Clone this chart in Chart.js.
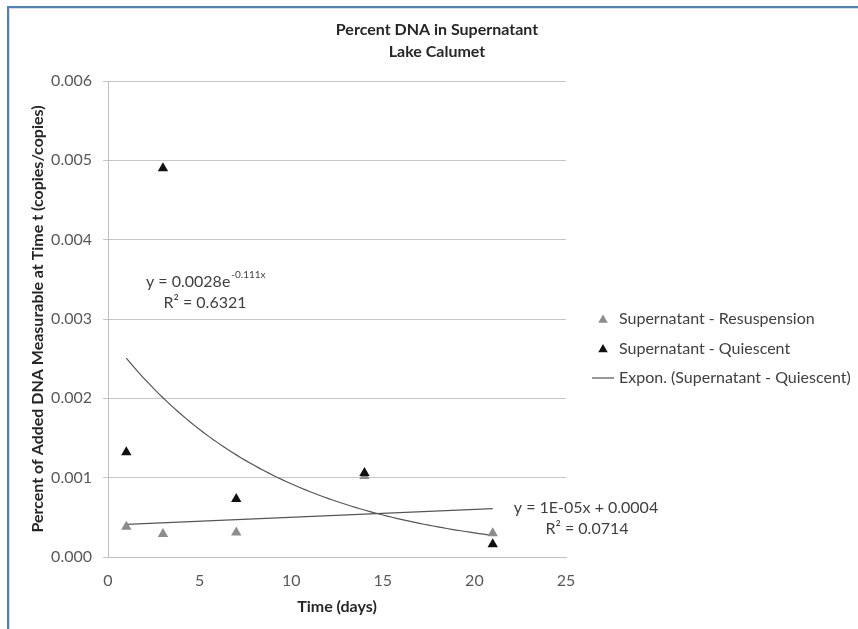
<!DOCTYPE html>
<html>
<head>
<meta charset="utf-8">
<title>Percent DNA in Supernatant</title>
<script src="https://cdn.jsdelivr.net/npm/chart.js@4.4.1/dist/chart.umd.min.js"></script>
<style>
  html, body { margin: 0; padding: 0; background: #fff; }
  #wrap { width: 858px; height: 629px; }
</style>
</head>
<body>
<div id="wrap"><canvas id="dnaChart" width="858" height="629"></canvas></div>
<script>
// sampling days and measured fractions
const days = [1, 3, 7, 14, 21];
const resuspension = [0.00038, 0.00029, 0.00031, 0.00102, 0.00030];
const quiescent = [0.00132, 0.0049, 0.00073, 0.00106, 0.00016];

// axis ticks
const xTicks = [0, 5, 10, 15, 20, 25];
const yTicks = [0, 0.001, 0.002, 0.003, 0.004, 0.005, 0.006];

// fitted trendlines, coefficients as printed on the chart
const expFit = [0.0028, -0.111];   // y = a * e^(b x)
const linFit = [0.00001, 0.0004];  // y = m x + c
const fitRange = [1, 21];

const expLabel = ['y = 0.0028e', '-0.111x', 'R² = 0.6321'];
const linLabel = ['y = 1E-05x + 0.0004', 'R² = 0.0714'];

const FONT = 'Lato, "Open Sans", sans-serif';

function expPoints() {
  const pts = [];
  for (let x = fitRange[0]; x <= fitRange[1] + 1e-9; x += 0.25) {
    pts.push({ x: x, y: expFit[0] * Math.exp(expFit[1] * x) });
  }
  return pts;
}

function linPoints() {
  return fitRange.map(x => ({ x: x, y: linFit[0] * x + linFit[1] }));
}

function toXY(xs, ys) {
  return xs.map((x, i) => ({ x: x, y: ys[i] }));
}

function triangle(ctx, x, y, r, color) {
  ctx.beginPath();
  ctx.moveTo(x, y - r);
  ctx.lineTo(x + r * 0.866, y + r * 0.5);
  ctx.lineTo(x - r * 0.866, y + r * 0.5);
  ctx.closePath();
  ctx.fillStyle = color;
  ctx.fill();
}

const decorations = {
  id: 'decorations',
  beforeDraw(chart) {
    const ctx = chart.ctx;
    ctx.save();
    ctx.fillStyle = '#fff';
    ctx.fillRect(0, 0, chart.width, chart.height);
    // blue frame along top and left
    ctx.fillStyle = '#4f81bd';
    ctx.fillRect(7, 6, chart.width - 7, 2);
    ctx.fillRect(7, 6, 2, chart.height - 6);
    ctx.fillStyle = '#dcdcdc';
    ctx.fillRect(9, 8, chart.width - 9, 1);
    ctx.fillRect(9, 8, 1, chart.height - 8);
    ctx.restore();
  },
  afterDraw(chart) {
    const ctx = chart.ctx;
    ctx.save();

    // title
    ctx.fillStyle = '#262626';
    ctx.textAlign = 'center';
    ctx.textBaseline = 'middle';
    ctx.font = 'bold 16px ' + FONT;
    ctx.fillText('Percent DNA in Supernatant', 437, 30);
    ctx.fillText('Lake Calumet', 437, 52);

    // trendline equations
    ctx.fillStyle = '#404040';
    ctx.textAlign = 'left';
    ctx.font = '16px ' + FONT;
    ctx.fillText(expLabel[0], 146, 282);
    const w = ctx.measureText(expLabel[0]).width;
    ctx.font = '10px ' + FONT;
    ctx.fillText(expLabel[1], 146 + w + 1, 275);
    ctx.font = '16px ' + FONT;
    ctx.textAlign = 'center';
    ctx.fillText(expLabel[2], 205, 303);
    ctx.fillText(linLabel[0], 586, 508);
    ctx.fillText(linLabel[1], 587, 529);

    // legend
    ctx.textAlign = 'left';
    const ds = chart.data.datasets;
    [0, 1, 2].forEach((idx, i) => {
      const d = ds[idx];
      const y = 319 + i * 29.5;
      if (d.showLine) {
        ctx.strokeStyle = d.borderColor;
        ctx.lineWidth = 1.2;
        ctx.beginPath();
        ctx.moveTo(592, y);
        ctx.lineTo(614, y);
        ctx.stroke();
      } else {
        triangle(ctx, 603, y + 1, 5.5, d.backgroundColor);
      }
      ctx.fillStyle = '#404040';
      ctx.fillText(d.label, 619, y);
    });
    ctx.restore();
  }
};

const chart = new Chart(document.getElementById('dnaChart'), {
  type: 'scatter',
  data: {
    datasets: [
      {
        label: 'Supernatant - Resuspension',
        data: toXY(days, resuspension),
        pointStyle: 'triangle',
        pointRadius: 6,
        backgroundColor: '#8c8c8c',
        borderColor: '#8c8c8c',
        borderWidth: 0,
        order: 1
      },
      {
        label: 'Supernatant - Quiescent',
        data: toXY(days, quiescent),
        pointStyle: 'triangle',
        pointRadius: 6,
        backgroundColor: '#111111',
        borderColor: '#111111',
        borderWidth: 0,
        order: 0
      },
      {
        label: 'Expon. (Supernatant - Quiescent)',
        data: expPoints(),
        showLine: true,
        pointRadius: 0,
        borderColor: '#555555',
        borderWidth: 1.2,
        order: 2
      },
      {
        label: 'Linear (Supernatant - Resuspension)',
        data: linPoints(),
        showLine: true,
        pointRadius: 0,
        borderColor: '#555555',
        borderWidth: 1.2,
        order: 2
      }
    ]
  },
  options: {
    responsive: false,
    animation: false,
    layout: { padding: { left: 0, top: 81, right: 292, bottom: 0 } },
    plugins: {
      legend: { display: false },
      tooltip: { enabled: false }
    },
    scales: {
      x: {
        type: 'linear',
        min: xTicks[0],
        max: xTicks[xTicks.length - 1],
        afterBuildTicks: axis => { axis.ticks = xTicks.map(v => ({ value: v })); },
        grid: { display: false, drawTicks: false },
        border: { display: true, color: '#bfbfbf', width: 1 },
        ticks: { color: '#595959', font: { family: FONT, size: 16 }, padding: 14 },
        title: {
          display: true,
          text: 'Time (days)',
          color: '#262626',
          font: { family: FONT, size: 16, weight: 'bold' },
          padding: { top: 0, bottom: 13 }
        },
        afterFit: axis => { axis.height = 72; }
      },
      y: {
        type: 'linear',
        min: yTicks[0],
        max: yTicks[yTicks.length - 1],
        afterBuildTicks: axis => { axis.ticks = yTicks.map(v => ({ value: v })); },
        grid: { color: '#c6c6c6', lineWidth: 1, tickLength: 5 },
        border: { display: true, color: '#bfbfbf', width: 1 },
        ticks: {
          color: '#595959',
          font: { family: FONT, size: 16 },
          padding: 11,
          callback: v => v.toFixed(3)
        },
        title: {
          display: true,
          text: 'Percent of Added DNA Measurable at Time t (copies/copies)',
          color: '#262626',
          font: { family: FONT, size: 16, weight: 'bold' },
          padding: { top: 28, bottom: 0 }
        },
        afterFit: axis => { axis.width = 108; }
      }
    }
  },
  plugins: [decorations]
});
</script>
</body>
</html>
